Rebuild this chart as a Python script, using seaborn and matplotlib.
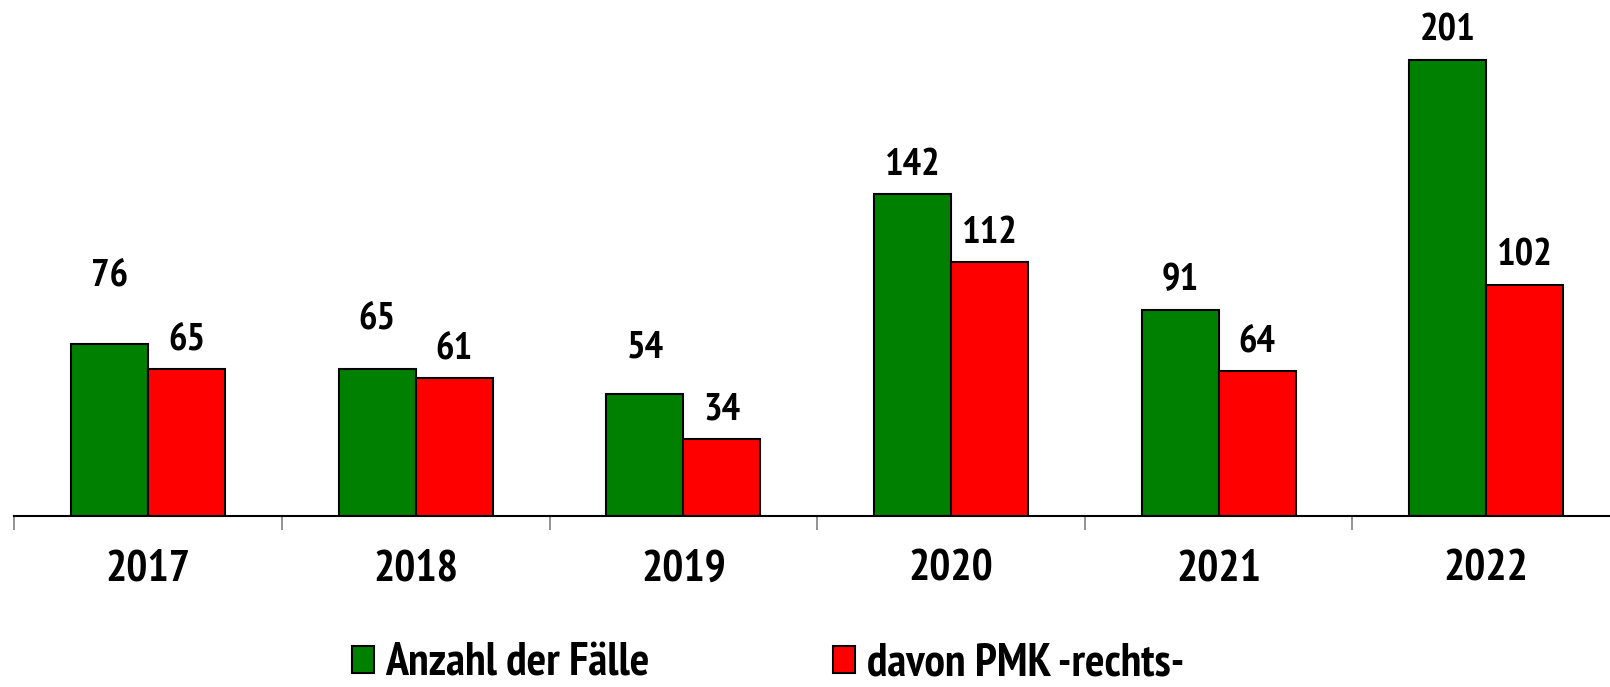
import pandas as pd
import matplotlib
matplotlib.use("Agg")
import matplotlib.pyplot as plt
import matplotlib.patches as mpatches
from matplotlib.ticker import FixedLocator
import seaborn as sns

years = ["2017", "2018", "2019", "2020", "2021", "2022"]
faelle = [76, 65, 54, 142, 91, 201]
pmk_rechts = [65, 61, 34, 112, 64, 102]
series_names = ["Anzahl der Fälle", "davon PMK -rechts-"]
colors = ["#008000", "#ff0000"]

sns.set_theme(style="white")
plt.rcParams["font.family"] = ["PT Sans Narrow", "Roboto Condensed", "Liberation Sans", "DejaVu Sans"]
plt.rcParams["font.weight"] = "bold"
plt.rcParams["text.color"] = "black"
plt.rcParams["xtick.color"] = "black"

df = pd.DataFrame({
    "Jahr": years * 2,
    "Wert": faelle + pmk_rechts,
    "Reihe": [series_names[0]] * len(years) + [series_names[1]] * len(years),
})

fig = plt.figure(figsize=(16.10, 6.87), dpi=100)
# axes runs slightly past the right edge, as in the original
ax = fig.add_axes([0.00894, 0.2482, 0.9973, 0.74])

sns.barplot(data=df, x="Jahr", y="Wert", hue="Reihe", palette=colors,
            saturation=1, width=0.575, edgecolor="black", linewidth=1.5,
            ax=ax, legend=False)

ax.set_xlim(-0.5, 5.5)
ax.set_ylim(0, 224)
ax.set_xlabel("")
ax.set_ylabel("")
ax.set_yticks([])
for s in ["left", "right", "top"]:
    ax.spines[s].set_visible(False)
ax.spines["bottom"].set_color("black")
ax.spines["bottom"].set_linewidth(1.5)

ax.tick_params(axis="x", which="major", length=0, pad=24, labelsize=32, labelcolor="black")
ax.xaxis.set_minor_locator(FixedLocator([i - 0.5 for i in range(len(years) + 1)]))
ax.tick_params(axis="x", which="minor", bottom=True, length=10, width=1.2, color="#808080")
for lbl in ax.get_xticklabels():
    lbl.set_fontweight("bold")

# value labels; a few were nudged up in the original to avoid overlap
extra_up = {(0, 0): 28, (0, 1): 15, (0, 2): 12}
for j, bars in enumerate(ax.containers):
    vals = faelle if j == 0 else pmk_rechts
    for i, (bar, v) in enumerate(zip(bars, vals)):
        off = 21 + extra_up.get((j, i), 0)
        ax.annotate(str(v), (bar.get_x() + bar.get_width() / 2, bar.get_height()),
                    xytext=(0, off), textcoords="offset points",
                    ha="center", va="center", fontsize=28, fontweight="bold",
                    color="black", annotation_clip=False)

handles = [mpatches.Patch(facecolor=c, edgecolor="black", linewidth=1.5) for c in colors]
fig.legend(handles, series_names, loc="center left", bbox_to_anchor=(0.2186, 0.034),
           ncol=2, frameon=False, prop={"weight": "bold", "size": 33},
           handlelength=0.48, handleheight=0.52, handletextpad=0.25,
           columnspacing=4.0, borderpad=0, borderaxespad=0, labelcolor="black")

fig.savefig("out.png", dpi=100)
